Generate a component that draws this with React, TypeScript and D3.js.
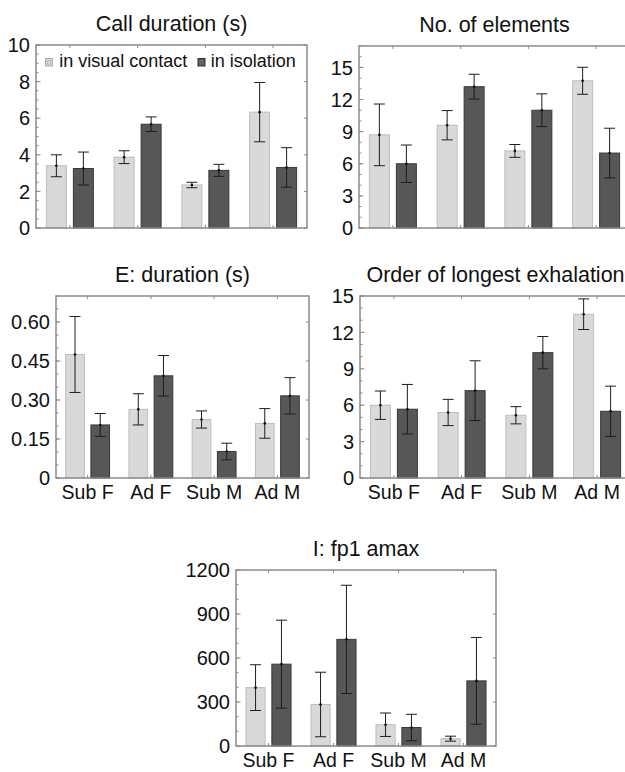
import React from 'react';
import * as d3 from 'd3';

const width = 625;
const height = 772;
const font = '"Liberation Sans", Arial, sans-serif';
const lightFill = '#d9d9d9';
const lightStroke = '#bdbdbd';
const darkFill = '#575757';
const darkStroke = '#383838';
const frameColor = '#8a8a8a';

const groups = ['Sub F', 'Ad F', 'Sub M', 'Ad M'];
const series = ['in visual contact', 'in isolation'];

// Call duration (s)
const callDurVisual = [3.4, 3.87, 2.35, 6.33];
const callDurVisualErr = [0.6, 0.35, 0.15, 1.62];
const callDurIsol = [3.25, 5.67, 3.15, 3.31];
const callDurIsolErr = [0.9, 0.4, 0.33, 1.08];
const callDurTicks = [0, 2, 4, 6, 8, 10];

// No. of elements
const elemVisual = [8.7, 9.6, 7.2, 13.75];
const elemVisualErr = [2.88, 1.37, 0.6, 1.26];
const elemIsol = [6.0, 13.2, 11.0, 7.0];
const elemIsolErr = [1.75, 1.16, 1.53, 2.32];
const elemTicks = [0, 3, 6, 9, 12, 15];

// E: duration (s)
const eDurVisual = [0.475, 0.264, 0.225, 0.21];
const eDurVisualErr = [0.146, 0.06, 0.033, 0.057];
const eDurIsol = [0.204, 0.393, 0.102, 0.316];
const eDurIsolErr = [0.044, 0.078, 0.032, 0.07];
const eDurTicks = [0, 0.15, 0.3, 0.45, 0.6];

// Order of longest exhalation
const orderVisual = [6.0, 5.4, 5.17, 13.5];
const orderVisualErr = [1.17, 1.08, 0.71, 1.26];
const orderIsol = [5.67, 7.2, 10.33, 5.5];
const orderIsolErr = [2.04, 2.46, 1.33, 2.07];
const orderTicks = [0, 3, 6, 9, 12, 15];

// I: fp1 amax
const fp1Visual = [398, 283, 145, 50];
const fp1VisualErr = [156, 220, 80, 17];
const fp1Isol = [558, 727, 126, 444];
const fp1IsolErr = [300, 369, 90, 296];
const fp1Ticks = [0, 300, 600, 900, 1200];

type PanelProps = {
  title: string;
  x0: number; x1: number; y0: number; y1: number;
  max: number;
  ticks: number[];
  minorStep: number;
  fmt: (v: number) => string;
  visual: number[]; visualErr: number[];
  isol: number[]; isolErr: number[];
  xLabels?: boolean;
  legend?: boolean;
};

function Panel(p: PanelProps) {
  const x = d3.scaleBand().domain(groups).range([p.x0, p.x1]);
  const inner = d3.scaleBand().domain(series).range([0, x.bandwidth()])
    .paddingInner(0.26).paddingOuter(0.385);
  const y = d3.scaleLinear().domain([0, p.max]).range([p.y1, p.y0]);
  const minor = d3.range(0, p.max + 1e-9, p.minorStep);
  const bars = [
    { s: series[0], vals: p.visual, errs: p.visualErr, fill: lightFill, stroke: lightStroke },
    { s: series[1], vals: p.isol, errs: p.isolErr, fill: darkFill, stroke: darkStroke },
  ];
  const bw = inner.bandwidth();
  return (
    <g fontFamily={font}>
      <text x={(p.x0 + p.x1) / 2} y={p.y0 - 14}
        textAnchor="middle" fontSize={21.5} fill="#111">{p.title}</text>
      {bars.map(b => groups.map((g, i) => {
        const bx = (x(g) as number) + (inner(b.s) as number);
        return (
          <rect key={b.s + g} x={bx} y={y(b.vals[i])} width={bw} height={y(0) - y(b.vals[i])}
            fill={b.fill} stroke={b.stroke} strokeWidth={1} />
        );
      }))}
      {bars.map(b => groups.map((g, i) => {
        const cx = (x(g) as number) + (inner(b.s) as number) + bw / 2;
        const hi = y(b.vals[i] + b.errs[i]);
        const lo = y(b.vals[i] - b.errs[i]);
        return (
          <g key={'e' + b.s + g} stroke="#1e1e1e" strokeWidth={1}>
            <line x1={cx} x2={cx} y1={hi} y2={lo} />
            <line x1={cx - 5.5} x2={cx + 5.5} y1={hi} y2={hi} />
            <line x1={cx - 5.5} x2={cx + 5.5} y1={lo} y2={lo} />
            <circle cx={cx} cy={y(b.vals[i])} r={1.3} fill="#111" stroke="none" />
          </g>
        );
      }))}
      {/* minor + major ticks, inward */}
      {minor.map(v => (
        <line key={'m' + v} x1={p.x0} x2={p.x0 + 2.5} y1={y(v)} y2={y(v)} stroke={frameColor} strokeWidth={1} />
      ))}
      {p.ticks.map(v => (
        <g key={'t' + v}>
          <line x1={p.x0} x2={p.x0 + 4.5} y1={y(v)} y2={y(v)} stroke={frameColor} strokeWidth={1} />
          <line x1={p.x1} x2={p.x1 - 3} y1={y(v)} y2={y(v)} stroke={frameColor} strokeWidth={1} />
          <text x={p.x0 - 6} y={y(v)} dy="0.36em" textAnchor="end" fontSize={20} fill="#111">{p.fmt(v)}</text>
        </g>
      ))}
      {groups.map(g => {
        const cx = (x(g) as number) + x.bandwidth() / 2;
        return (
          <g key={'x' + g}>
            <line x1={cx} x2={cx} y1={p.y0} y2={p.y0 + 3} stroke={frameColor} strokeWidth={1} />
            <line x1={cx} x2={cx} y1={p.y1} y2={p.y1 - 3} stroke={frameColor} strokeWidth={1} />
            {p.xLabels && (
              <text x={cx} y={p.y1 + 21} textAnchor="middle" fontSize={19.5} fill="#111">{g}</text>
            )}
          </g>
        );
      })}
      <rect x={p.x0} y={p.y0} width={p.x1 - p.x0} height={p.y1 - p.y0}
        fill="none" stroke={frameColor} strokeWidth={1.5} />
      {p.legend && (
        <g>
          <rect x={45.5} y={58.5} width={7} height={7.5} fill={lightFill} stroke="#aaa" strokeWidth={1} />
          <rect x={47.5} y={60.5} width={3} height={3.5} fill="none" stroke="#b5b5b5" strokeWidth={0.8} />
          <text x={59.3} y={66.7} fontSize={18} fill="#111">{series[0]}</text>
          <rect x={198} y={58.5} width={7} height={7.5} fill={darkFill} stroke="#333" strokeWidth={1} />
          <rect x={200} y={60.5} width={3} height={3.5} fill="none" stroke="#777" strokeWidth={0.8} />
          <text x={210.7} y={66.7} fontSize={18} fill="#111">{series[1]}</text>
        </g>
      )}
    </g>
  );
}

const intFmt = (v: number) => d3.format('d')(v);
const decFmt = (v: number) => (v === 0 ? '0' : d3.format('.2f')(v));

export default function App() {
  return (
    <svg width={width} height={height} style={{ position: 'absolute', left: 0, top: 0, background: '#fff' }}>
      <Panel title="Call duration (s)" x0={36} x1={307} y0={45} y1={228} max={10}
        ticks={callDurTicks} minorStep={0.5} fmt={intFmt}
        visual={callDurVisual} visualErr={callDurVisualErr} isol={callDurIsol} isolErr={callDurIsolErr} legend />
      <Panel title="No. of elements" x0={359} x1={630} y0={46} y1={228} max={17}
        ticks={elemTicks} minorStep={1} fmt={intFmt}
        visual={elemVisual} visualErr={elemVisualErr} isol={elemIsol} isolErr={elemIsolErr} />
      <Panel title="E: duration (s)" x0={56} x1={309} y0={296} y1={478} max={0.7}
        ticks={eDurTicks} minorStep={0.05} fmt={decFmt}
        visual={eDurVisual} visualErr={eDurVisualErr} isol={eDurIsol} isolErr={eDurIsolErr} xLabels />
      <Panel title="Order of longest exhalation" x0={360} x1={631} y0={296} y1={478} max={15}
        ticks={orderTicks} minorStep={1} fmt={intFmt}
        visual={orderVisual} visualErr={orderVisualErr} isol={orderIsol} isolErr={orderIsolErr} xLabels />
      <Panel title="I: fp1 amax" x0={236} x1={496} y0={570} y1={746} max={1200}
        ticks={fp1Ticks} minorStep={100} fmt={intFmt}
        visual={fp1Visual} visualErr={fp1VisualErr} isol={fp1Isol} isolErr={fp1IsolErr} xLabels />
    </svg>
  );
}
